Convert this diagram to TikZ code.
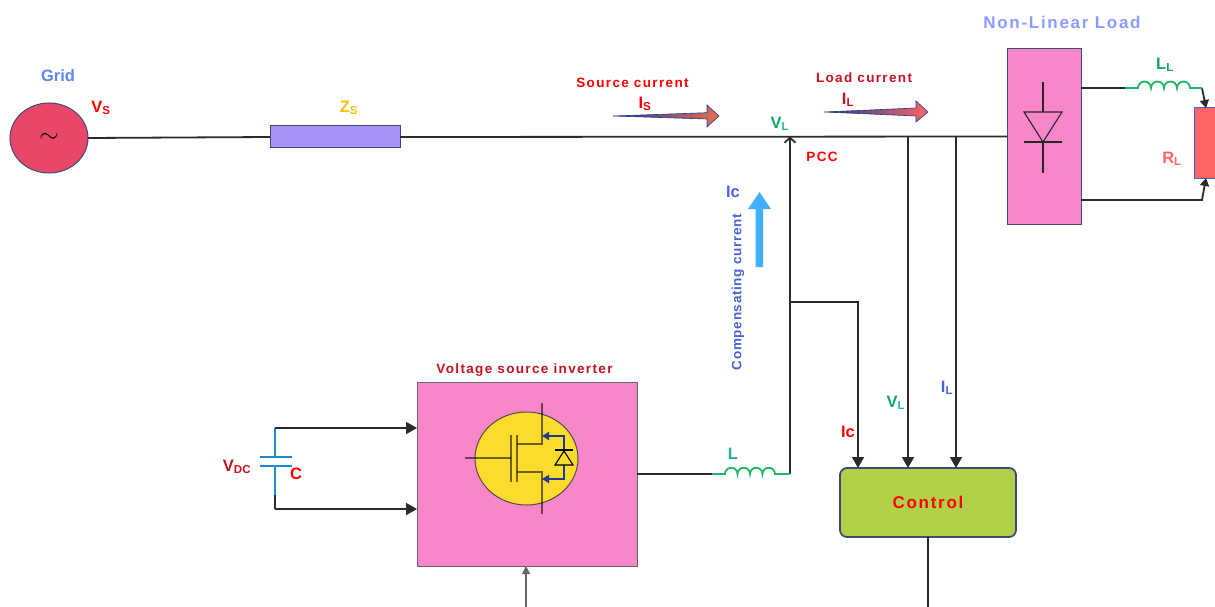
\documentclass[tikz,border=0pt]{standalone}
\usepackage{fontspec}
\setmainfont{Liberation Sans}
\newfontfamily\widefont[LetterSpace=10]{Liberation Sans}
\newfontfamily\halfwidefont[LetterSpace=5]{Liberation Sans}
\usetikzlibrary{arrows.meta, shapes.geometric}

\definecolor{gridred}{HTML}{E8476A}
\definecolor{zspurple}{HTML}{A992F7}
\definecolor{boxpink}{HTML}{F986C8}
\definecolor{igbtyellow}{HTML}{FBDB2B}
\definecolor{ctrlgreen}{HTML}{B2D148}
\definecolor{rlred}{HTML}{FF6464}
\definecolor{wire}{HTML}{2B2B2B}
\definecolor{edgeblue}{HTML}{3F4A78}
\definecolor{coilgreen}{HTML}{1DB863}
\definecolor{capblue}{HTML}{1E88D0}
\definecolor{diodeblue}{HTML}{1F3A8C}
\definecolor{labred}{HTML}{FF0000}
\definecolor{darkred}{HTML}{C8101E}
\definecolor{labgreen}{HTML}{10A860}
\definecolor{labteal}{HTML}{20B8A8}
\definecolor{labblue}{HTML}{4A62D8}
\definecolor{loadblue}{HTML}{8A9CFF}
\definecolor{gridblue}{HTML}{5B86F5}
\definecolor{zsyellow}{HTML}{FFC000}
\definecolor{compblue}{HTML}{42B0FF}
\definecolor{isorange}{HTML}{E8704F}

\begin{document}
\begin{tikzpicture}[x=1pt, y=-1pt, >={Stealth[length=11pt, width=12pt, inset=0pt]}]
    \tikzset{
        part/.style = {draw=edgeblue, line width=1pt, inner sep=0pt, outer sep=0pt},
        lbl/.style = {font=\bfseries\fontsize{16.5}{17}\selectfont, inner sep=0pt},
        small/.style = {font=\widefont\bfseries\fontsize{13.5}{14}\selectfont, inner sep=0pt},
        big/.style = {font=\widefont\bfseries\fontsize{17}{18}\selectfont, inner sep=0pt},
        line/.style = {draw=wire, line width=1.8pt},
        coilline/.style = {draw=coilgreen, line width=1.8pt},
        thin/.style = {line width=1.1pt, draw=black!85},
        igbtline/.style = {line width=1.5pt, draw=black, opacity=.55},
        diodeline/.style = {line width=1.5pt, draw=diodeblue, -{Stealth[length=7pt, width=8pt, inset=0pt]}}
    }

    \clip (0,0) rectangle (1215,607);

    \node[part, shape=ellipse, fill=gridred, minimum width=78pt, minimum height=70pt] (grid) at (49,138) {\Huge$\sim$};
    \node[part, fill=zspurple, minimum width=130pt, minimum height=22pt] (zs) at (335,137) {};
    \node[part, fill=boxpink, minimum width=74pt, minimum height=175pt] (rect) at (1044,136.5) {};
    \node[part, fill=rlred, draw=labblue, minimum width=36pt, minimum height=70pt] (rl) at (1212,143) {};
    \node[part, fill=boxpink, draw=black!60, minimum width=220pt, minimum height=184pt] (vsi) at (527,474) {};
    \node[part, shape=ellipse, fill=igbtyellow, draw=black!70, minimum width=103pt, minimum height=93pt] (igbt) at (526.5,458.5) {};
    \node[part, big, fill=ctrlgreen, rounded corners=7pt, line width=1.8pt, minimum width=176pt, minimum height=69pt, text=labred] (control) at (928,502.5) {Control};

    \coordinate (pcc) at (790,136.5);
    \coordinate (tapc) at (790,302);
    \coordinate (bendc) at (858,302);
    \coordinate (tapv) at (908,136.5);
    \coordinate (tapi) at (956,136.5);
    \coordinate (ctrlout) at (928,607);
    \coordinate (vsiin) at (526,607);
    \coordinate (capup) at (275,428);
    \coordinate (capdown) at (275,509);
    \coordinate (capa) at (275,457);
    \coordinate (capb) at (275,466);
    \coordinate (capmid) at (275,495);
    \coordinate (lstart) at (712,474);
    \coordinate (lend) at (790,474);
    \coordinate (llstart) at (1125,88);
    \coordinate (llend) at (1202,88);
    \coordinate (rltop) at (1206,108);
    \coordinate (rlbot) at (1206,178);
    \coordinate (rlbend) at (1202,200);

    \draw[line] (grid.east) -- (zs.west);
    \draw[line] (zs.east) -- (rect.west);
    \draw[line, -{Straight Barb[length=5pt, width=11pt]}] (lend) -- (pcc);
    \draw[line, ->] (tapc) -- (bendc) -- (bendc |- control.north);
    \draw[line, ->] (tapv) -- (tapv |- control.north);
    \draw[line, ->] (tapi) -- (tapi |- control.north);
    \draw[line] (control.south) -- (ctrlout);
    \draw[line] (vsi.east) -- (lstart);
    \draw[line] (rect.east |- llstart) -- (llstart);
    \draw[line, ->, >={Stealth[length=8pt, width=9pt, inset=0pt]}] (llend) -- (rltop);
    \draw[line, ->, >={Stealth[length=8pt, width=9pt, inset=0pt]}] (rect.east |- rlbend) -- (rlbend) -- (rlbot);
    \draw[thin, ->, draw=black!60, >={Stealth[length=8pt, width=8pt, inset=0pt]}] (vsiin) -- (vsi.south -| vsiin);

    \draw[coilline] (lstart) -- (725,474) \foreach \k in {1,2,3,4} {arc[start angle=180, end angle=360, radius=6.25]} -- (lend);
    \draw[coilline] (llstart) -- (1138,88) \foreach \k in {1,2,3,4} {arc[start angle=180, end angle=360, radius=6.5]} -- (llend);

    \draw[line, draw=capblue] (capa) -- (capup);
    \draw[line, ->] (capup) -- (capup -| vsi.west);
    \draw[line, draw=capblue, line width=1.8pt] (260,457) -- (292,457);
    \draw[line, draw=capblue, line width=1.2pt] (260,466) -- (292,466);
    \draw[line, draw=capblue] (capb) -- (capmid);
    \draw[line] (capmid) -- (capdown);
    \draw[line, ->] (capdown) -- (capdown -| vsi.west);

    \draw[thin] (1043,82) -- (1043,112);
    \draw[thin] (1024,112) -- (1062,112) -- (1043,142) -- cycle;
    \draw[thin] (1024,142) -- (1062,142);
    \draw[thin] (1043,142) -- (1043,173);

    \draw[igbtline] (465,458) -- (511,458);
    \draw[igbtline] (511,435) -- (511,482);
    \draw[igbtline] (517,435) -- (517,482);
    \draw[igbtline] (517,444) -- (542,444) -- (542,403);
    \draw[igbtline] (517,472) -- (542,472) -- (542,514);
    \draw[diodeline] (564,450) -- (564,436) -- (542,436);
    \draw[diodeline] (564,465) -- (564,479) -- (542,479);
    \draw[thin, draw=black] (555,465) -- (573,465) -- (564,451) -- cycle;
    \draw[thin, draw=black] (555,450) -- (573,450);

    \draw[draw=diodeblue, line width=.6pt, left color=diodeblue, middle color=isorange!85!black, right color=isorange] (613,116) -- (707,112.7) -- (707,105) -- (719,116) -- (707,127) -- (707,119) -- cycle;
    \draw[draw=diodeblue, line width=.6pt, left color=diodeblue, middle color=rlred!90!black, right color=rlred] (824,112) -- (916,108) -- (916,101) -- (928,112) -- (916,122) -- (916,116) -- cycle;
    \fill[compblue] (755.5,267) -- (755.5,209) -- (748,209) -- (759.5,192) -- (771,209) -- (763,209) -- (763,267) -- cycle;

    \node[small, text=labred] (sourcelbl) at (632.5,83) {Source current};
    \node[lbl, text=labred] (islbl) at (645,104) {I\textsubscript{S}};
    \node[small, text=darkred] (loadlbl) at (864,77.5) {Load current};
    \node[lbl, text=darkred] (illbl) at (848,100) {I\textsubscript{L}};
    \node[lbl, text=labgreen] (vllbl) at (780,124) {V\textsubscript{\color{labteal}L}};
    \node[small, text=labred] (pcclbl) at (822,157) {PCC};
    \node[lbl, text=gridblue] (gridlbl) at (58,75.5) {Grid};
    \node[lbl, text=labred] (vslbl) at (101,108) {V\textsubscript{S}};
    \node[lbl, text=zsyellow] (zslbl) at (349,108) {Z\textsubscript{S}};
    \node[big, text=loadblue] (nlllbl) at (1062,22) {Non-Linear Load};
    \node[lbl, text=labgreen] (lllbl) at (1165,65) {L\textsubscript{L}};
    \node[lbl, text=rlred] (rllbl) at (1172,159) {R\textsubscript{L}};
    \node[lbl, text=labblue] (iclbl) at (733,192) {Ic};
    \node[font=\halfwidefont\bfseries\fontsize{13.5}{14}\selectfont, inner sep=0pt, text=labblue, rotate=90] (complbl) at (738,292) {Compensating current};
    \node[lbl, text=labteal!70!labgreen] (llbl) at (733,454) {L};
    \node[lbl, text=labred] (ictrl) at (848,432) {Ic};
    \node[lbl, text=labgreen] (vctrl) at (896,403) {V\textsubscript{\color{labteal}L}};
    \node[lbl, text=labblue] (ilctrl) at (947,388) {I\textsubscript{L}};
    \node[small, text=darkred] (vsilbl) at (524.5,370.5) {Voltage source inverter};
    \node[lbl, text=darkred] (vdclbl) at (237,467) {V\textsubscript{DC}};
    \node[lbl, text=labred] (clbl) at (296,474) {C};
\end{tikzpicture}
\end{document}
